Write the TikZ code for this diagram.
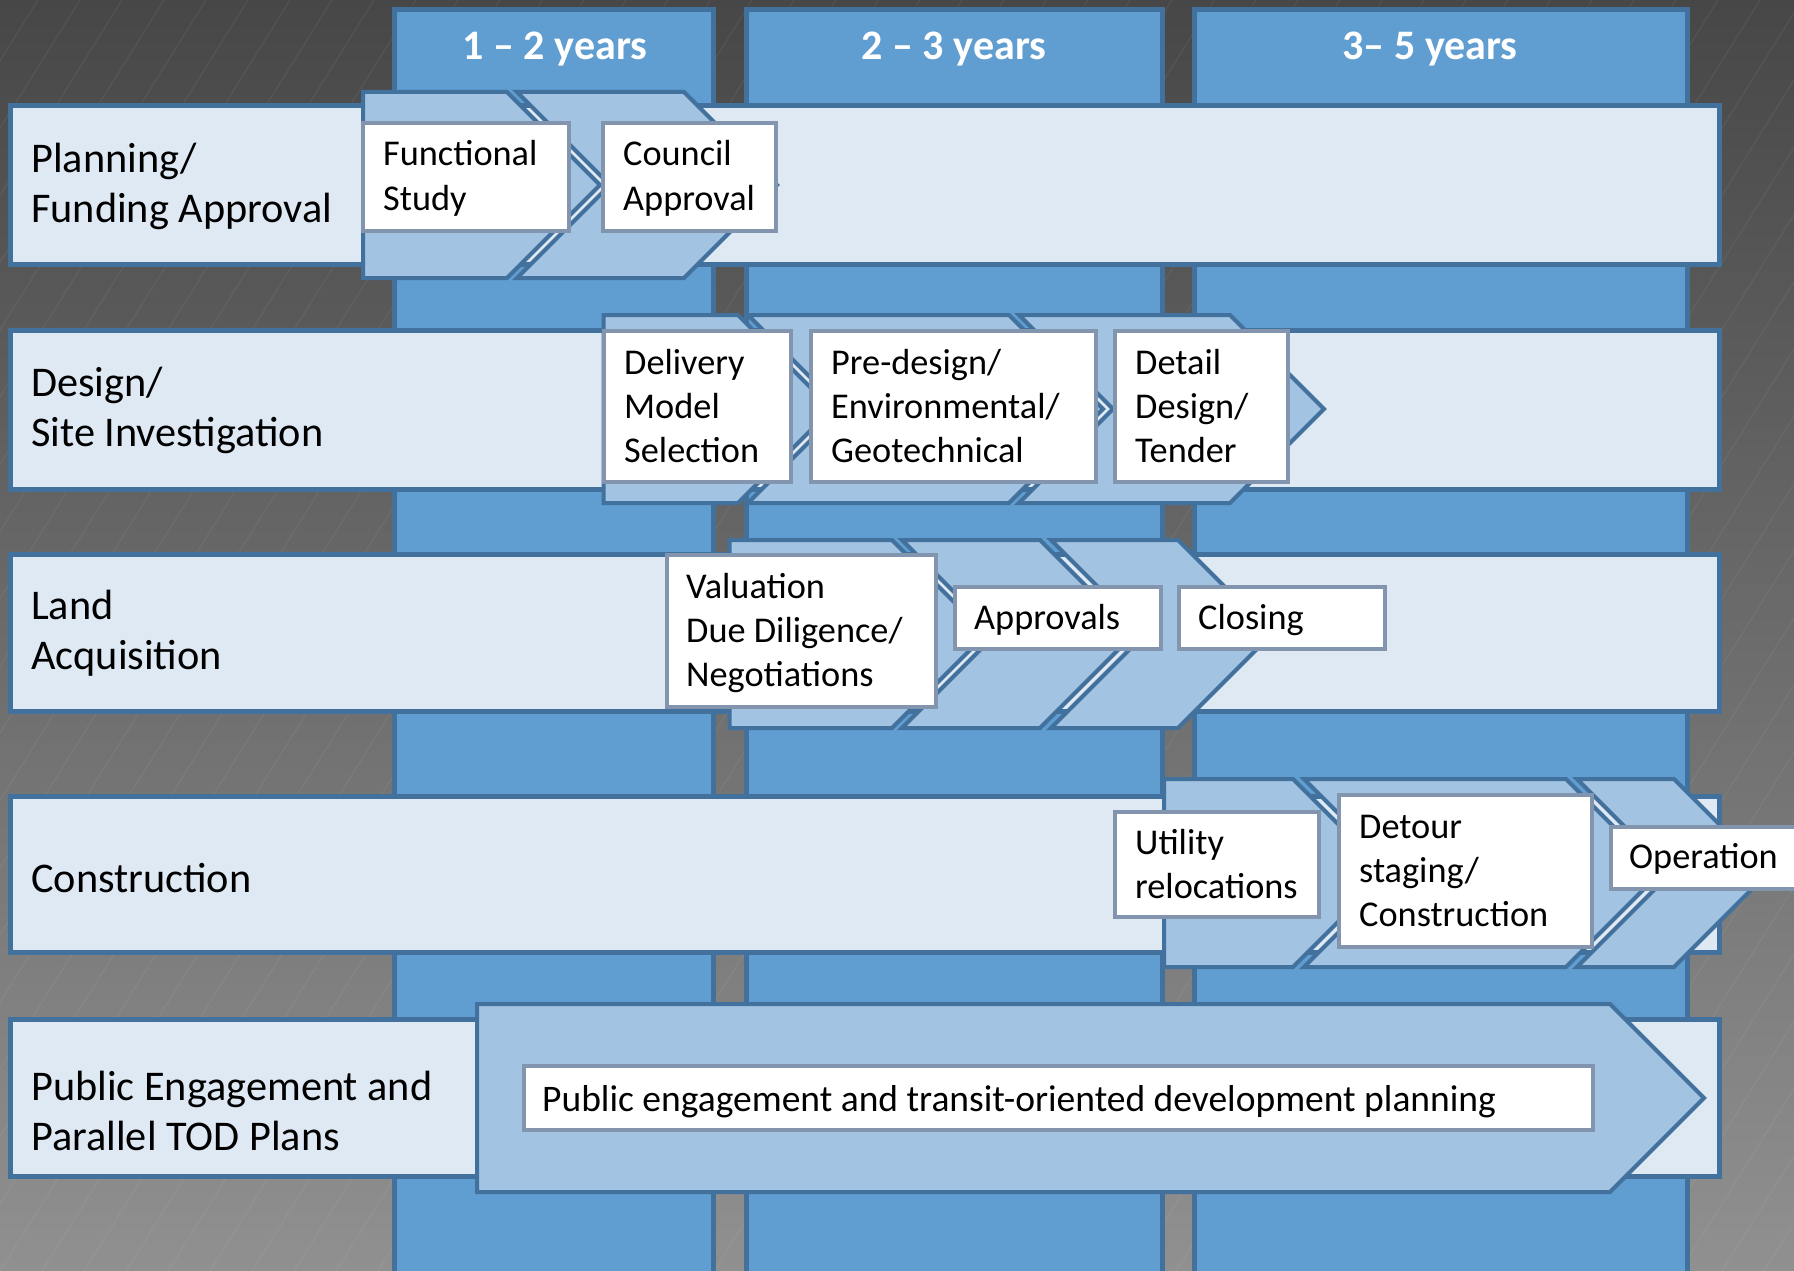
\documentclass[tikz,border=0pt]{standalone}
\usepackage{fontspec}
\setmainfont{Carlito}
\definecolor{colblue}{HTML}{609DD1}
\definecolor{bordblue}{HTML}{41719C}
\definecolor{rowfill}{HTML}{DFE9F4}
\definecolor{chevfill}{HTML}{A2C4E2}
\definecolor{boxline}{HTML}{8394AF}
\definecolor{bgtop}{HTML}{474747}
\definecolor{bgbot}{HTML}{909090}
\begin{document}
\begin{tikzpicture}[x=1pt,y=-1pt,
  colbox/.style={draw=bordblue,line width=5pt,fill=colblue},
  rowband/.style={draw=bordblue,line width=5pt,fill=rowfill},
  chev/.style={draw=bordblue,line width=4pt,fill=chevfill,line join=miter},
  tbox/.style={draw=boxline,line width=4pt,fill=white},
  rowlabel/.style={anchor=base west,align=left,inner sep=0pt,font=\fontsize{42.3}{50}\selectfont},
  boxtext/.style={anchor=base west,align=left,inner sep=0pt,font=\fontsize{36.3}{44}\selectfont},
  header/.style={anchor=base,inner sep=0pt,text=white,font=\bfseries\fontsize{42}{50}\selectfont},
  stripe/.style={draw=white,opacity=0.05,line width=1.3pt}]
\useasboundingbox (0,0) rectangle (1794,1271);
\clip (0,0) rectangle (1794,1271);
% background
\shade[top color=bgtop,bottom color=bgbot] (0,0) rectangle (1794,1271);
\foreach \i in {-20,...,43}{\draw[stripe] ({\i*42},1271) -- ({\i*42+794},0);}
% columns
\draw[colbox] (394.5,9.5) rectangle (713.5,1300);
\draw[colbox] (746.5,9.5) rectangle (1162.5,1300);
\draw[colbox] (1194.5,9.5) rectangle (1687.5,1300);
\node[header] (h1) at (555,60) {1 – 2 years};
\node[header] (h2) at (954,60) {2 – 3 years};
\node[header] (h3) at (1430,60) {3– 5 years};
% row bands
\draw[rowband] (10.5,105.5) rectangle (1719.5,264.5);
\draw[rowband] (10.5,330.5) rectangle (1719.5,489.5);
\draw[rowband] (10.5,554.5) rectangle (1719.5,711.5);
\draw[rowband] (10.5,796.5) rectangle (1719.5,952.5);
\draw[rowband] (10.5,1019.5) rectangle (1719.5,1176.5);
% anchor base = baseline of last line
\node[rowlabel] (r1) at (31,222) {Planning/\\Funding Approval};
\node[rowlabel] (r2) at (31,446) {Design/\\Site Investigation};
\node[rowlabel] (r3) at (31,669) {Land\\Acquisition};
\node[rowlabel] (r4) at (31,892) {Construction};
\node[rowlabel] (r5) at (31,1150) {Public Engagement and\\Parallel TOD Plans};
% row 1 chevrons
\draw[chev] (363,92) -- (507,92) -- (600,185) -- (507,278) -- (363,278) -- cycle;
\draw[chev] (517,92) -- (684,92) -- (777,185) -- (684,278) -- (517,278) -- (610,185) -- cycle;
% row 2 chevrons
\draw[chev] (603.5,315) -- (738,315) -- (832,409) -- (738,503) -- (603.5,503) -- cycle;
\draw[chev] (748,315) -- (1009,315) -- (1103,409) -- (1009,503) -- (748,503) -- (842,409) -- cycle;
\draw[chev] (1019,315) -- (1230,315) -- (1324,409) -- (1230,503) -- (1019,503) -- (1113,409) -- cycle;
% row 3 chevrons
\draw[chev] (729.5,540) -- (892,540) -- (986,634) -- (892,728) -- (729.5,728) -- cycle;
\draw[chev] (902,540) -- (1040,540) -- (1134,634) -- (1040,728) -- (902,728) -- (996,634) -- cycle;
\draw[chev] (1051,540) -- (1178,540) -- (1272,634) -- (1178,728) -- (1051,728) -- (1145,634) -- cycle;
% row 4 chevrons
\draw[chev] (1164,779) -- (1293,779) -- (1387,873) -- (1293,967) -- (1164,967) -- cycle;
\draw[chev] (1304,779) -- (1566,779) -- (1660,873) -- (1566,967) -- (1304,967) -- (1398,873) -- cycle;
\draw[chev] (1577,779) -- (1674,779) -- (1768,873) -- (1674,967) -- (1577,967) -- (1671,873) -- cycle;
% row 5 chevron
\draw[chev] (477,1004) -- (1610,1004) -- (1704,1098) -- (1610,1192) -- (477,1192) -- cycle;
% text boxes
\draw[tbox] (363,123) rectangle (569,231);
\draw[tbox] (603,123) rectangle (776,231);
\draw[tbox] (603.5,331) rectangle (791,482);
\draw[tbox] (811,331) rectangle (1096,482);
\draw[tbox] (1115,331) rectangle (1288,482);
\draw[tbox] (666.5,555) rectangle (936,707);
\draw[tbox] (955,587) rectangle (1161,649);
\draw[tbox] (1179,587) rectangle (1385,649);
\draw[tbox] (1115,812) rectangle (1319,917);
\draw[tbox] (1339,795) rectangle (1592,947);
\draw[tbox] (1611,827) rectangle (1830,889);
\draw[tbox] (524,1066) rectangle (1593,1130);
\node[boxtext] (fs) at (383,210) {Functional\\Study};
\node[boxtext] (ca) at (623,210) {Council\\Approval};
\node[boxtext] (dm) at (624,462) {Delivery\\Model\\Selection};
\node[boxtext] (pd) at (831,462) {Pre-design/\\Environmental/\\Geotechnical};
\node[boxtext] (dd) at (1135,462) {Detail\\Design/\\Tender};
\node[boxtext] (va) at (686,686) {Valuation\\Due Diligence/\\Negotiations};
\node[boxtext] (ap) at (974,629) {Approvals};
\node[boxtext] (cl) at (1198,629) {Closing};
\node[boxtext] (ur) at (1135,898) {Utility\\relocations};
\node[boxtext] (dc) at (1359,926) {Detour\\staging/\\Construction};
\node[boxtext] (op) at (1629,868) {Operation};
\node[boxtext,font=\fontsize{37.5}{44}\selectfont] (pe) at (542,1111) {Public engagement and transit-oriented development planning};
\end{tikzpicture}
\end{document}
